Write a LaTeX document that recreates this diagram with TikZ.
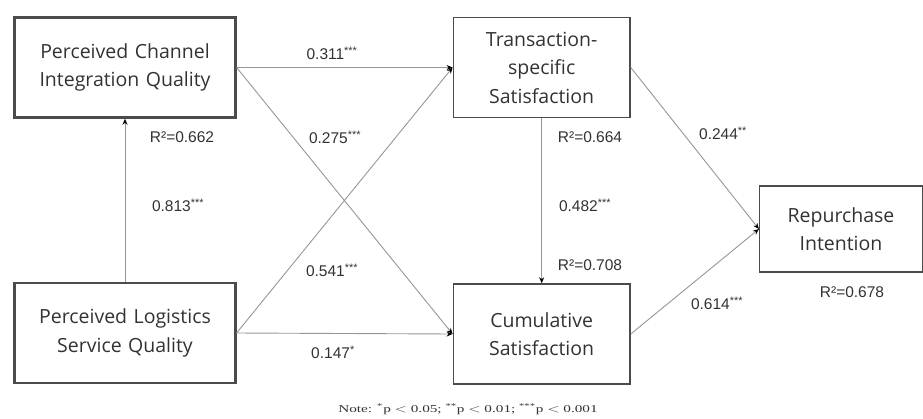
\documentclass[tikz,border=0pt]{standalone}
\usepackage{fontspec}
\setmainfont{Open Sans}
\newfontfamily\numfont{Liberation Sans}
\newfontfamily\notefont{Liberation Serif}
\usetikzlibrary{arrows.meta,positioning}
\definecolor{boxgray}{RGB}{75,75,75}
\definecolor{linegray}{RGB}{150,150,150}
\definecolor{textgray}{RGB}{50,50,50}

\begin{document}
\begin{tikzpicture}[x=1pt, y=-1pt,
    construct/.style={rectangle, draw=boxgray, line width=1.5pt, minimum width=176pt, minimum height=100pt, text width=170pt, align=center, text=textgray, font=\fontsize{19.5}{28.5}\selectfont},
    exogen/.style={construct, line width=2.5pt, minimum width=220pt, text width=214pt},
    coef/.style={text=textgray, font=\numfont\fontsize{15.5}{18}\selectfont},
    arrow/.style={->, >={Stealth[black, length=6pt, width=5pt]}, draw=linegray, line width=0.9pt}
]
\useasboundingbox (0,0) rectangle (923,418);

\node[exogen] (pciq) at (125,67.5) {Perceived Channel\\Integration Quality};
\node[exogen, below=163pt of pciq] (plsq) {Perceived Logistics\\Service Quality};
\node[construct, right=216pt of pciq] (tss) {Transaction-\\specific\\Satisfaction};
\node[construct, below=165pt of tss] (cs) {Cumulative\\Satisfaction};
\node[construct, minimum width=162pt, minimum height=86pt, text width=156pt] (ri) at (841,229) {Repurchase\\Intention};

\draw[arrow] (plsq) -- (pciq);
\draw[arrow] (pciq.east) -- (tss.west);
\draw[arrow] (pciq.east) -- (cs.west);
\draw[arrow] (plsq.east) -- (tss.west);
\draw[arrow] (plsq.east) -- (cs.west);
\draw[arrow] (tss) -- (cs);
\draw[arrow] (tss.east) -- (ri.west);
\draw[arrow] (cs.east) -- (ri.west);

\node[coef] (b1) at (332,53) {0.311\textsuperscript{***}};
\node[coef] (b2) at (335,137) {0.275\textsuperscript{***}};
\node[coef] (b3) at (178,205) {0.813\textsuperscript{***}};
\node[coef] (b4) at (332,270) {0.541\textsuperscript{***}};
\node[coef] (b5) at (333,352) {0.147\textsuperscript{*}};
\node[coef] (b6) at (585,205) {0.482\textsuperscript{***}};
\node[coef] (b7) at (723,133) {0.244\textsuperscript{**}};
\node[coef] (b8) at (717,303) {0.614\textsuperscript{***}};

\node[coef] (r1) at (182,137) {R²=0.662};
\node[coef] (r2) at (590,137) {R²=0.664};
\node[coef] (r3) at (590,265) {R²=0.708};
\node[coef] (r4) at (852,292) {R²=0.678};

\node[text=textgray, font=\notefont\fontsize{10.5}{12}\selectfont] (note) at (468,409) {\scalebox{1.45}[1]{Note: \textsuperscript{*}p $<$ 0.05; \textsuperscript{**}p $<$ 0.01; \textsuperscript{***}p $<$ 0.001}};

\end{tikzpicture}
\end{document}
